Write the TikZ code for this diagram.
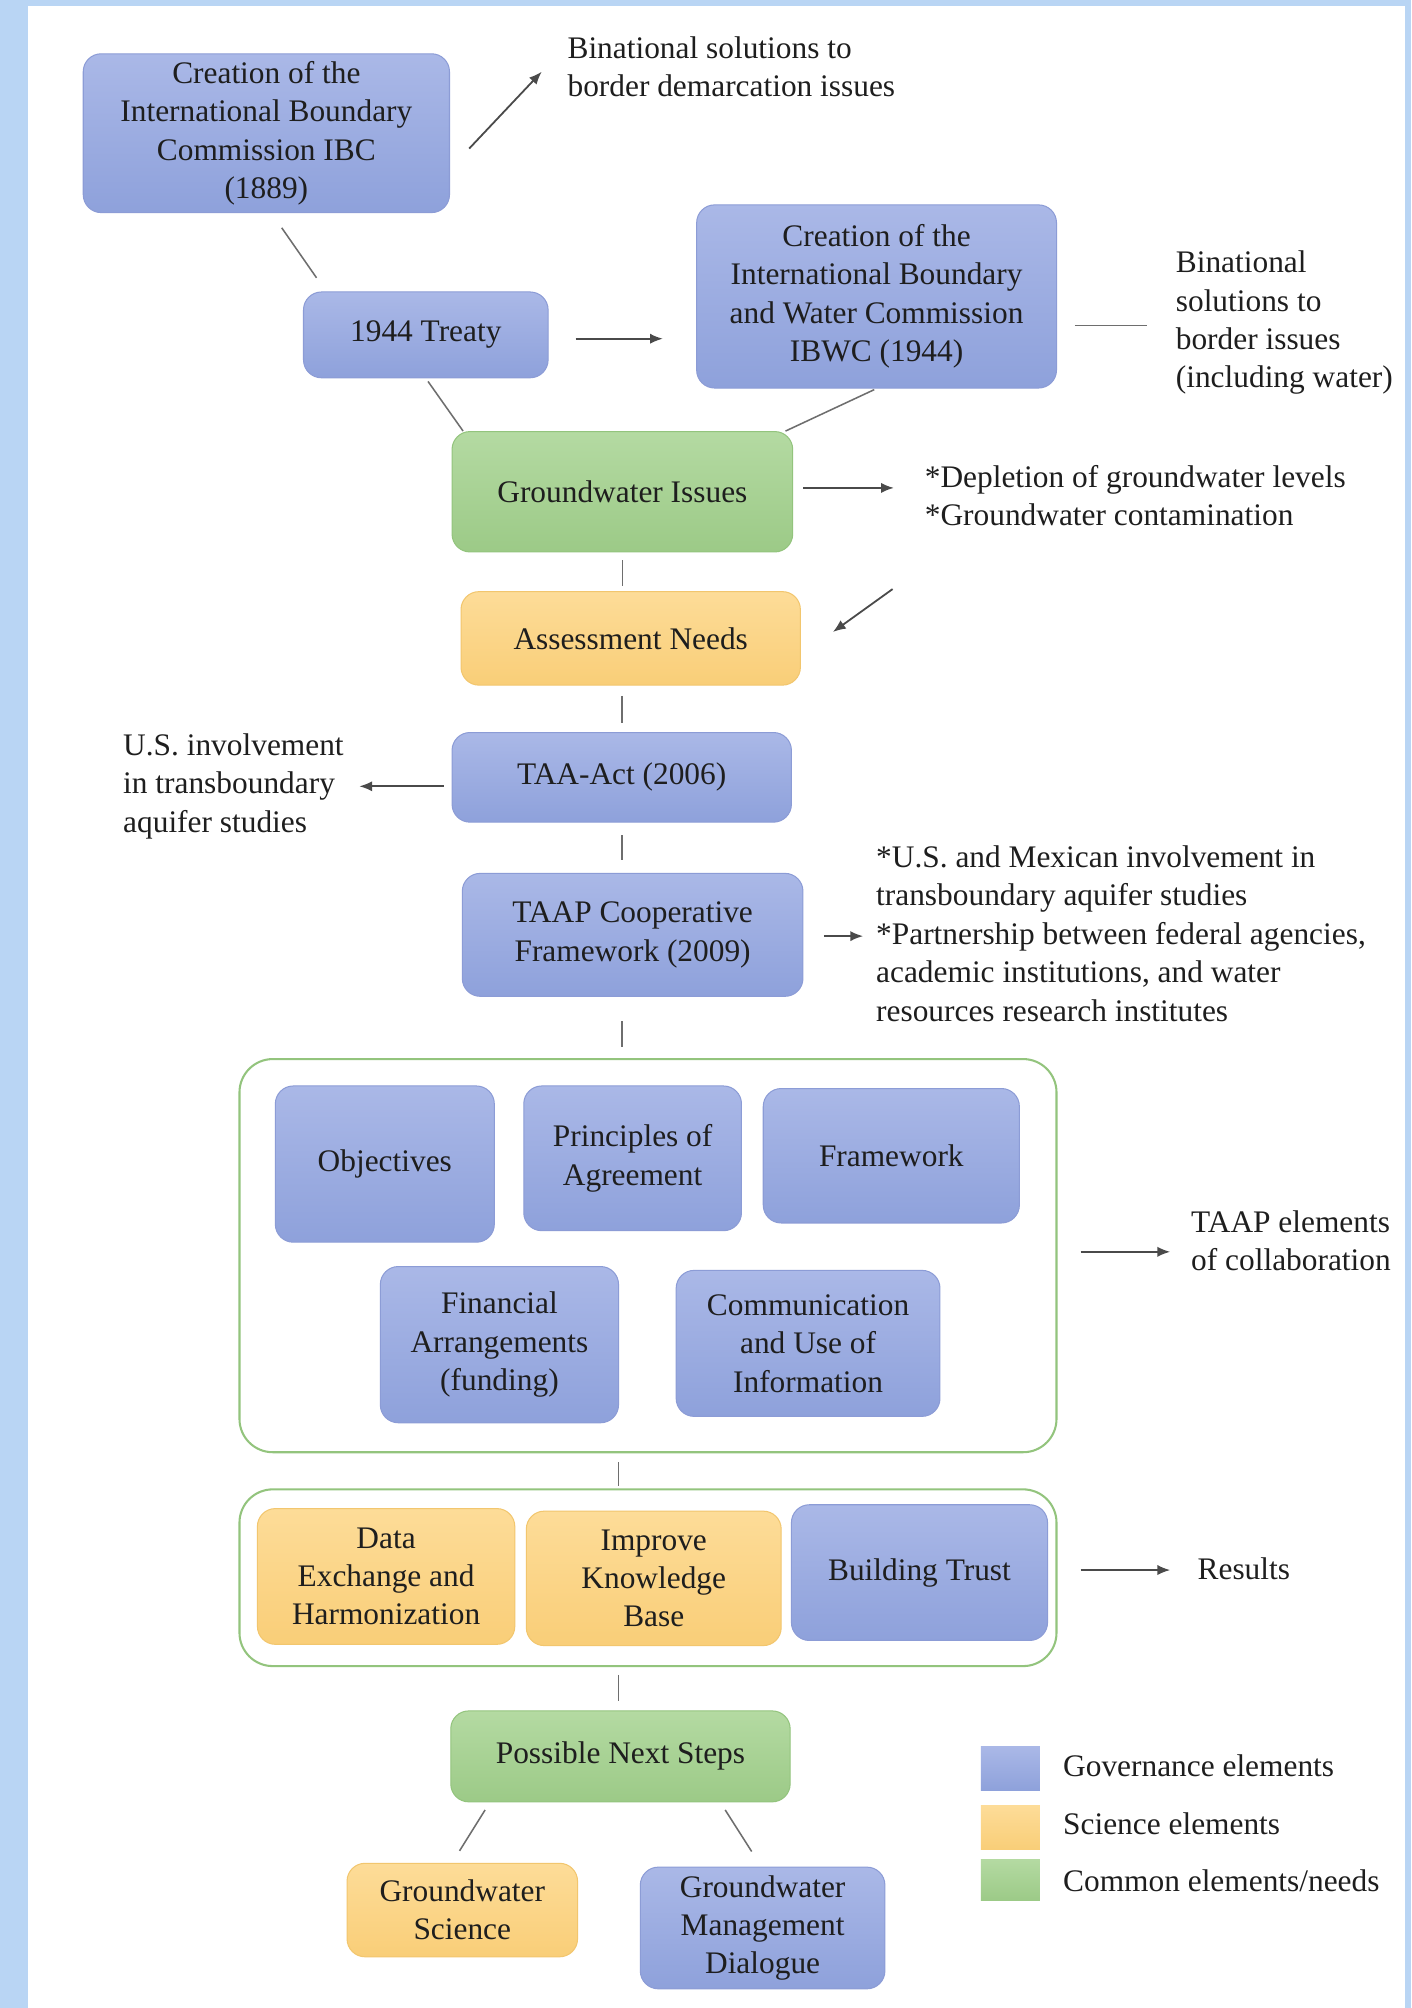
\documentclass[tikz,border=0pt]{standalone}
\usepackage{fontspec}
\setmainfont{Liberation Serif}
\usetikzlibrary{calc,arrows.meta}
\definecolor{bgblue}{HTML}{B9D5F4}
\definecolor{govtop}{HTML}{AAB8E7}
\definecolor{govbot}{HTML}{8EA1DB}
\definecolor{govdraw}{HTML}{8C9CD6}
\definecolor{scitop}{HTML}{FDDC98}
\definecolor{scibot}{HTML}{F9CE78}
\definecolor{scidraw}{HTML}{F2C66E}
\definecolor{comtop}{HTML}{B4DAA2}
\definecolor{combot}{HTML}{9CCA87}
\definecolor{comdraw}{HTML}{93C47D}
\definecolor{txt}{HTML}{1E1E1E}
\definecolor{linec}{HTML}{4A4A4A}
\begin{document}
\begin{tikzpicture}[x=1pt,y=-1pt,
  every node/.style={text=txt},
  basebox/.style={rounded corners=14pt, align=center, inner sep=0pt,
    font=\fontsize{24.5}{30}\selectfont, line width=0.8pt},
  gov/.style={basebox, top color=govtop, bottom color=govbot, draw=govdraw},
  sci/.style={basebox, top color=scitop, bottom color=scibot, draw=scidraw},
  com/.style={basebox, top color=comtop, bottom color=combot, draw=comdraw},
  frame/.style={rounded corners=26pt, draw=comdraw, line width=1.6pt, fill=white, inner sep=0pt},
  note/.style={align=left, inner sep=0pt, anchor=west, font=\fontsize{24.5}{30}\selectfont},
  arr/.style={draw=linec, line width=1.4pt, -{Latex[length=10pt,width=8pt]}},
  ln/.style={draw=linec!80, line width=1.2pt},
  legsq/.style={inner sep=0pt, minimum width=46pt, minimum height=34pt}
]
% background
\fill[bgblue] (0,0) rectangle (1102,1568);
\fill[white] (22,5) rectangle (1097,1568);
\useasboundingbox (0,0) rectangle (1102,1568);

% top part
\node[gov, minimum width=286pt, minimum height=124pt] (ibc) at (208,104)
  {Creation of the\\International Boundary\\Commission IBC\\(1889)};
\node[note] (b1) at (443,52) {Binational solutions to\\border demarcation issues};
\node[gov, minimum width=191pt, minimum height=67pt] (treaty) at (332.5,261.5) {1944 Treaty};
\node[gov, minimum width=281pt, minimum height=143pt] (ibwc) at (684.5,231.5)
  {Creation of the\\International Boundary\\and Water Commission\\IBWC (1944)};
\node[note] (b2) at (918,252) {Binational\\solutions to\\border issues\\(including water)};

\node[com, minimum width=266pt, minimum height=94pt] (gw) at (486,384) {Groundwater Issues};
\node[note] (dep) at (722,387) {*Depletion of groundwater levels\\*Groundwater contamination};

\node[sci, minimum width=265pt, minimum height=73pt] (assess) at (492.5,498.5) {Assessment Needs};
\coordinate (astart) at (697,460);

\node[gov, minimum width=265pt, minimum height=70pt] (taa) at (485.5,607) {TAA-Act (2006)};
\node[note] (usinv) at (96,614) {U.S. involvement\\in transboundary\\aquifer studies};

\node[gov, minimum width=266pt, minimum height=96pt] (taap) at (494,730) {TAAP Cooperative\\Framework (2009)};
\node[note] (mex) at (684,729) {*U.S. and Mexican involvement in\\transboundary aquifer studies\\*Partnership between federal agencies,\\academic institutions, and water\\resources research institutes};

% container 1
\node[frame, minimum width=638pt, minimum height=307pt] (c1) at (506,980.5) {};
\node[gov, minimum width=171pt, minimum height=122pt] (obj) at (300.5,909) {Objectives};
\node[gov, minimum width=170pt, minimum height=113pt] (pri) at (494,904.5) {Principles of\\Agreement};
\node[gov, minimum width=200pt, minimum height=105pt] (fra) at (696,902.5) {Framework};
\node[gov, minimum width=186pt, minimum height=122pt] (fin) at (390,1050) {Financial\\Arrangements\\(funding)};
\node[gov, minimum width=206pt, minimum height=114pt] (cmu) at (631,1049) {Communication\\and Use of\\Information};
\node[note] (taapel) at (930,969) {TAAP elements\\of collaboration};

% container 2
\node[frame, minimum width=638pt, minimum height=138pt] (c2) at (506,1232) {};
\node[sci, minimum width=201pt, minimum height=106pt] (dat) at (301.5,1231) {Data\\Exchange and\\Harmonization};
\node[sci, minimum width=199pt, minimum height=105pt] (imp) at (510.5,1232.5) {Improve\\Knowledge\\Base};
\node[gov, minimum width=200pt, minimum height=106pt] (bui) at (718,1228) {Building Trust};
\node[note] (res) at (935,1225) {Results};

% bottom
\node[com, minimum width=265pt, minimum height=71pt] (pns) at (484.5,1371.5) {Possible Next Steps};
\node[sci, minimum width=180pt, minimum height=73pt] (gws) at (361,1491.5) {Groundwater\\Science};
\node[gov, minimum width=191pt, minimum height=95pt] (gwm) at (595.5,1505.5) {Groundwater\\Management\\Dialogue};

% legend
\node[legsq, top color=govtop, bottom color=govbot] (lg1) at (789,1381) {};
\node[legsq, top color=scitop, bottom color=scibot] (lg2) at (789,1427) {};
\node[legsq, minimum height=32pt, top color=comtop, bottom color=combot] (lg3) at (789,1468) {};
\node[note] (lt1) at (830,1379) {Governance elements};
\node[note] (lt2) at (830,1424) {Science elements};
\node[note] (lt3) at (830,1469) {Common elements/needs};

% helper coordinates on the container edges
\path ($(c1.south)+(-23,0)$) coordinate (c1s);
\path ($(c2.south)+(-23,0)$) coordinate (c2s);

% connectors
\draw[arr] ($(ibc.east)+(15,12)$) -- ($(b1.west)+(-20,4)$);
\draw[ln, shorten <=14pt, shorten >=13pt] ($(ibc.south)+(4,0)$) -- ($(treaty.north west)+(18,0)$);
\draw[arr] ($(treaty.east)+(21,3)$) -- ($(ibwc.west|-treaty.east)+(-26,3)$);
\draw[ln] ($(ibwc.east|-b2.west)+(14,2)$) -- ($(b2.west)+(-22,2)$);
\draw[ln, shorten <=3pt] (treaty.south) -- ($(gw.north west)+(9,0)$);
\draw[ln, shorten <=2pt] (ibwc.south) -- ($(gw.north east)+(-6,0)$);
\draw[arr] ($(gw.east)+(8,-3)$) -- ($(dep.west)+(-24,-6)$);
\draw[ln, shorten <=6pt, shorten >=4pt] (gw.south) -- (gw.south|-assess.north);
\draw[arr] (astart) -- ($(assess.east)+(25,-5)$);
\draw[ln, shorten <=8pt, shorten >=7pt] (assess.south-|taa.north) -- (taa.north);
\draw[arr] ($(taa.west)+(-6,7)$) -- ($(usinv.east)+(12,0)$);
\draw[ln, shorten <=10pt, shorten >=10pt] (taa.south) -- (taa.south|-taap.north);
\draw[arr] ($(taap.east)+(16,1)$) -- ($(mex.west)+(-10,2)$);
\draw[ln, shorten <=19pt, shorten >=9pt] (taap.south-|taa.south) -- (taa.south|-c1.north);
\draw[arr] ($(c1.east)+(18,-3)$) -- ($(c1.east)+(88,-3)$);
\draw[ln, shorten <=7pt, shorten >=2pt] (c1s) -- (c1s|-c2.north);
\draw[arr] ($(c2.east)+(18,-6)$) -- ($(c2.east)+(88,-6)$);
\draw[ln, shorten <=6pt, shorten >=7pt] (c2s) -- (c2s|-pns.north);
\draw[ln, shorten <=7pt, shorten >=11pt] ($(pns.south)+(-102,0)$) -- ($(gws.north)+(-8,0)$);
\draw[ln, shorten <=7pt, shorten >=14pt] ($(pns.south)+(78,0)$) -- ($(gwm.north)+(-1,0)$);
\end{tikzpicture}
\end{document}
